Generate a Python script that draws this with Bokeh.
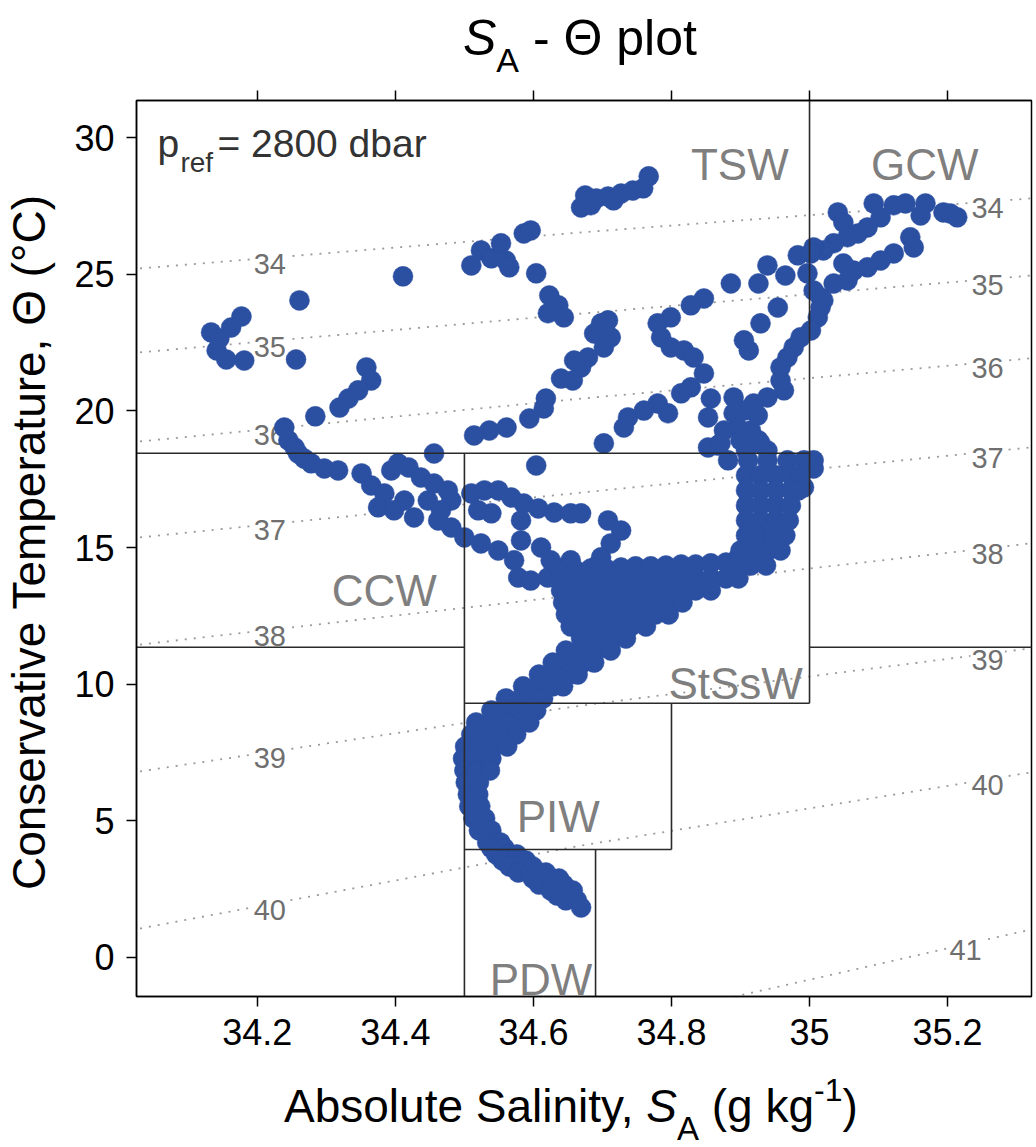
import numpy as np
from bokeh.plotting import figure
from bokeh.models import Range1d, FixedTicker, LinearAxis, Label, Div
from bokeh.layouts import column
from bokeh.embed import file_html
from bokeh.resources import INLINE
from bokeh.core.properties import value

# ------------------------------------------------------------------ data
sa_ticks = [34.2, 34.4, 34.6, 34.8, 35.0, 35.2]
sa_tick_labels = ["34.2", "34.4", "34.6", "34.8", "35", "35.2"]
ct_ticks = [0, 5, 10, 15, 20, 25, 30]

# sigma isopycnals (p_ref = 2800 dbar): Conservative Temperature at three SA values
iso_sa = [34.03, 34.67, 35.32]
iso_sigma = ["34", "35", "36", "37", "38", "39", "40", "41"]
iso_ct = [
    [25.21, 26.53, 27.77],
    [22.14, 23.56, 24.95],
    [18.88, 20.45, 21.92],
    [15.37, 17.01, 18.66],
    [11.45, 13.28, 15.15],
    [6.81, 9.22, 11.31],
    [1.06, 4.10, 6.77],
    [-6.90, -2.70, 1.02],
]

# water-mass boundaries
wm_ct_tsw_low = 18.45
wm_ct_ccw_low = 11.35
wm_ct_stssw_low = 9.30
wm_ct_piw_low = 3.95
wm_sa_west = 34.50
wm_sa_east = 35.00
wm_sa_piw_east = 34.80
wm_sa_pdw_east = 34.69
wm_names = ["TSW", "GCW", "CCW", "StSsW", "PIW", "PDW"]

# scattered samples (SA g/kg, CT degC)
tsw_surface = [(34.669, 27.44), (34.675, 27.88), (34.683, 27.52), (34.691, 27.77), (34.708, 27.84),
               (34.716, 27.70), (34.727, 27.95), (34.744, 28.06), (34.759, 28.14), (34.767, 28.58)]
gcw_points = [(35.041, 27.26), (35.049, 26.89), (35.093, 27.59), (35.122, 27.52), (35.139, 27.59),
              (35.168, 27.59), (35.161, 27.15), (35.103, 27.08), (35.084, 26.71), (35.070, 26.49),
              (35.055, 26.35), (35.035, 26.13), (35.020, 25.87), (35.194, 27.26), (35.204, 27.22),
              (35.214, 27.08), (35.146, 26.35), (35.151, 25.98), (35.122, 25.76), (35.103, 25.50),
              (35.084, 25.25), (35.064, 25.13), (35.049, 25.39), (35.055, 24.77), (35.035, 24.66),
              (35.016, 24.15), (35.016, 23.78), (35.012, 23.42), (35.006, 25.98), (34.983, 25.69),
              (35.002, 25.76), (34.997, 25.03), (35.006, 24.40), (35.020, 24.04)]
tsw_east = [(35.002, 22.94), (34.987, 22.69), (34.977, 22.32), (34.968, 21.95), (34.958, 21.59),
            (34.958, 21.11), (34.963, 20.75), (34.939, 20.49), (34.919, 20.27), (34.905, 20.01),
            (34.890, 20.49), (34.890, 19.91), (34.896, 19.39), (34.900, 18.92), (34.867, 18.73),
            (34.929, 18.81), (34.915, 19.28), (34.925, 19.83), (34.908, 18.55), (34.939, 18.55),
            (34.939, 25.32), (34.965, 24.95), (34.886, 24.66), (34.926, 24.66), (34.954, 23.78),
            (34.929, 23.20), (34.905, 22.58), (34.912, 22.21), (34.847, 24.11), (34.828, 23.86),
            (34.799, 23.42), (34.780, 23.20), (34.785, 22.69), (34.799, 22.32), (34.818, 22.21),
            (34.832, 21.95), (34.698, 23.20), (34.708, 23.31), (34.688, 22.83), (34.712, 22.69),
            (34.702, 22.32), (34.679, 21.95), (34.669, 21.59), (34.657, 21.11), (34.640, 21.18),
            (34.659, 21.84), (34.618, 20.45), (34.615, 20.09), (34.594, 19.72), (34.561, 19.39),
            (34.536, 19.28), (34.514, 19.10), (34.847, 21.37), (34.828, 20.86), (34.814, 20.64),
            (34.857, 20.45), (34.853, 19.76), (34.780, 20.27), (34.760, 20.01), (34.737, 19.76),
            (34.731, 19.39), (34.702, 18.81), (34.795, 19.91), (34.876, 19.28)]
tsw_west = [(34.510, 25.32), (34.524, 25.87), (34.539, 25.58), (34.553, 26.13), (34.560, 25.50),
            (34.565, 25.25), (34.586, 26.49), (34.596, 26.60), (34.604, 25.03), (34.623, 24.22),
            (34.636, 23.86), (34.621, 23.57), (34.644, 23.42), (34.411, 24.92), (34.261, 24.04),
            (34.256, 21.88), (34.133, 22.87), (34.145, 22.65), (34.162, 23.05), (34.177, 23.45),
            (34.141, 22.21), (34.155, 21.88), (34.181, 21.84), (34.358, 21.59), (34.365, 21.11),
            (34.346, 20.75), (34.332, 20.45), (34.319, 20.12), (34.284, 19.80), (34.239, 19.39),
            (34.245, 18.92), (34.254, 18.66), (34.259, 18.44), (34.268, 18.25), (34.278, 18.08),
            (34.297, 17.89), (34.317, 17.82), (34.456, 18.44), (34.604, 18.00)]
ccw_points = [(34.351, 17.71), (34.365, 17.27), (34.384, 16.98), (34.375, 16.47), (34.398, 16.36),
              (34.427, 16.10), (34.404, 18.08), (34.419, 17.93), (34.437, 17.56), (34.456, 17.34),
              (34.476, 17.09), (34.481, 16.72), (34.462, 15.99), (34.481, 15.73), (34.500, 15.37),
              (34.524, 15.15), (34.549, 14.89), (34.572, 14.53), (34.578, 13.90), (34.596, 13.79),
              (34.621, 13.90), (34.644, 14.27), (34.510, 16.98), (34.529, 17.09), (34.549, 17.09),
              (34.568, 16.83), (34.586, 16.61), (34.607, 16.43), (34.630, 16.28), (34.654, 16.25),
              (34.520, 16.36), (34.539, 16.25), (34.582, 15.99), (34.582, 15.26), (34.611, 15.00),
              (34.625, 14.53), (34.654, 14.53), (34.447, 16.72), (34.466, 16.36), (34.413, 16.72),
              (34.394, 17.82)]
stssw_points = [(34.853, 18.66), (34.871, 18.81), (34.926, 18.92), (35.006, 17.89), (34.992, 17.20),
                (34.669, 16.25), (34.708, 15.99), (34.727, 15.62), (34.712, 15.15), (34.698, 14.64),
                (34.688, 14.27), (34.640, 14.09), (34.662, 14.16), (34.683, 14.23), (34.705, 14.23),
                (34.727, 14.27), (34.748, 14.31), (34.770, 14.31), (34.792, 14.34), (34.814, 14.38),
                (34.835, 14.38), (34.857, 14.42), (34.879, 14.45), (34.896, 14.60)]

# dense core of the profiles: CT levels and the salinities sampled at each level
core_ct = [18.19, 17.64, 17.09, 16.54, 15.99, 15.44, 14.89, 14.34, 13.87, 13.43, 12.99, 12.55,
           12.11, 11.67, 11.23, 10.79, 10.35, 9.92, 9.48, 9.04, 8.60, 8.16, 7.72, 7.28, 6.84,
           6.40, 5.96, 5.53, 5.09, 4.65, 4.21, 4.00, 3.77, 3.55, 3.33, 3.11, 2.89, 2.67, 2.45,
           2.27, 2.09, 1.83]
core_sa = [
    [34.882, 34.911, 34.939, 34.968, 34.992, 35.006],
    [34.908, 34.929, 34.951, 34.973, 34.987],
    [34.908, 34.929, 34.951, 34.973, 34.984],
    [34.908, 34.929, 34.951, 34.973],
    [34.908, 34.929, 34.951, 34.970],
    [34.908, 34.926, 34.947, 34.965],
    [34.900, 34.922, 34.940, 34.958],
    [34.893, 34.915, 34.937],
    [34.640, 34.662, 34.683, 34.705, 34.727, 34.748, 34.770, 34.792, 34.814, 34.835, 34.857, 34.879, 34.897],
    [34.640, 34.662, 34.683, 34.705, 34.727, 34.748, 34.770, 34.792, 34.814, 34.835, 34.857],
    [34.643, 34.664, 34.686, 34.708, 34.730, 34.751, 34.773, 34.795, 34.816],
    [34.647, 34.669, 34.691, 34.712, 34.734, 34.756, 34.777, 34.796],
    [34.654, 34.676, 34.698, 34.719, 34.741, 34.763],
    [34.669, 34.691, 34.712, 34.734],
    [34.647, 34.669, 34.691, 34.712],
    [34.628, 34.650, 34.672, 34.688],
    [34.608, 34.630, 34.651, 34.664],
    [34.585, 34.607, 34.628, 34.643],
    [34.560, 34.582, 34.604, 34.614],
    [34.539, 34.560, 34.582, 34.604],
    [34.517, 34.539, 34.560, 34.582, 34.594],
    [34.510, 34.530, 34.550, 34.575],
    [34.501, 34.521, 34.541, 34.562],
    [34.498, 34.519, 34.539],
    [34.500, 34.519, 34.537],
    [34.502, 34.521],
    [34.505, 34.520],
    [34.507, 34.523],
    [34.513, 34.530],
    [34.521, 34.539],
    [34.533, 34.552],
    [34.539, 34.558],
    [34.546, 34.565, 34.576],
    [34.555, 34.573, 34.589],
    [34.565, 34.583, 34.599],
    [34.578, 34.596, 34.618],
    [34.599, 34.620, 34.637],
    [34.608, 34.627, 34.644],
    [34.625, 34.644, 34.657],
    [34.634, 34.651],
    [34.647, 34.663],
    [34.669],
]

# ------------------------------------------------------------------ figure
FONT = "Liberation Sans"
X0, X1 = 34.0249, 35.3216
Y0, Y1 = -1.427, 31.354

p = figure(width=1034, height=986, output_backend="svg", toolbar_location=None,
           x_range=Range1d(X0, X1), y_range=Range1d(Y0, Y1),
           min_border_left=135, min_border_right=3, min_border_top=20, min_border_bottom=70)
p.title.visible = False
p.xgrid.visible = False
p.ygrid.visible = False
p.outline_line_color = "black"
p.outline_line_width = 1.5
p.background_fill_color = "white"
p.border_fill_color = "white"

xax = p.xaxis[0]
yax = p.yaxis[0]
xax.ticker = FixedTicker(ticks=sa_ticks)
xax.major_label_overrides = {t: l for t, l in zip(sa_ticks, sa_tick_labels)}
yax.ticker = FixedTicker(ticks=ct_ticks)
for ax in (xax, yax):
    ax.major_tick_out = 10
    ax.major_tick_in = 0
    ax.minor_tick_out = 0
    ax.minor_tick_in = 0
    ax.major_tick_line_width = 1.5
    ax.major_tick_line_color = "black"
    ax.axis_line_width = 1.5
    ax.axis_line_color = "black"
    ax.major_label_text_font = FONT
    ax.major_label_text_font_size = "36px"
    ax.major_label_text_color = "black"
    ax.major_label_standoff = 12

yax.axis_label = "\u00a0\u00a0Conservative Temperature,  \u0398 (\u00b0C)"
yax.axis_label_text_font = FONT
yax.axis_label_text_font_size = "46px"
yax.axis_label_text_font_style = "normal"
yax.axis_label_text_color = "black"
yax.axis_label_standoff = 16

top = LinearAxis(ticker=FixedTicker(ticks=sa_ticks), major_tick_out=10, major_tick_in=0,
                 minor_tick_out=0, minor_tick_in=0, major_tick_line_width=1.5,
                 axis_line_width=1.5, major_label_text_font_size="1px",
                 major_label_text_color=None, major_label_standoff=0)
p.add_layout(top, "above")

# isopycnals
for lab, cts in zip(iso_sigma, iso_ct):
    p.line(iso_sa, cts, line_color="#9a9a9a", line_width=1.8, line_dash="2 7")

lab_left_sa = 34.218
lab_right_sa = 35.258
lx, ly, lt = [], [], []
for lab, cts in zip(iso_sigma, iso_ct):
    if lab != "41":
        lx.append(lab_left_sa); ly.append(float(np.interp(lab_left_sa, iso_sa, cts))); lt.append(lab)
        lx.append(lab_right_sa); ly.append(float(np.interp(lab_right_sa, iso_sa, cts))); lt.append(lab)
    else:
        lx.append(35.226); ly.append(float(np.interp(35.226, iso_sa, cts))); lt.append(lab)
p.text(x=lx, y=ly, text=lt, text_font=value(FONT), text_font_size="29px", text_color="#6f6f6f",
       text_align="center", text_baseline="middle", y_offset=6,
       background_fill_color="white", padding=1)

# samples
pts = tsw_surface + gcw_points + tsw_east + tsw_west + ccw_points + stssw_points
sa_all = [s for s, c in pts]
ct_all = [c for s, c in pts]
for c, row in zip(core_ct, core_sa):
    for s in row:
        sa_all.append(s)
        ct_all.append(c)
p.scatter(sa_all, ct_all, marker="circle", size=20, fill_color="#2b4fa1", line_color="#2b4fa1",
          line_width=0.5)

# water-mass boxes
LOW, HIGH, LEFT, RIGHT = Y0 - 5, Y1 + 5, X0 - 1, X1 + 1
seg_x0 = [LEFT, wm_sa_east, LEFT, wm_sa_east, wm_sa_west, wm_sa_west, wm_sa_piw_east, wm_sa_west, wm_sa_pdw_east]
seg_y0 = [wm_ct_tsw_low, wm_ct_stssw_low, wm_ct_ccw_low, wm_ct_ccw_low, LOW, wm_ct_stssw_low, wm_ct_piw_low, wm_ct_piw_low, LOW]
seg_x1 = [wm_sa_east, wm_sa_east, wm_sa_west, RIGHT, wm_sa_west, wm_sa_east, wm_sa_piw_east, wm_sa_piw_east, wm_sa_pdw_east]
seg_y1 = [wm_ct_tsw_low, HIGH, wm_ct_ccw_low, wm_ct_ccw_low, wm_ct_tsw_low, wm_ct_stssw_low, wm_ct_stssw_low, wm_ct_piw_low, wm_ct_piw_low]
p.segment(seg_x0, seg_y0, seg_x1, seg_y1, line_color="#2a2a2a", line_width=1.6)

# water-mass names
wm_x = [34.899, 35.167, 34.384, 34.893, 34.636, 34.611]
wm_y = [29.01, 29.01, 13.43, 10.02, 5.16, -0.82]
p.text(x=wm_x, y=wm_y, text=wm_names, text_font=value(FONT), text_font_size="44px",
       text_color="#7f7f7f", text_align="center", text_baseline="alphabetic")


def add_label(text, x, y, size, style="normal", color="black"):
    p.add_layout(Label(x=x, y=y, text=text, text_font=FONT, text_font_size=f"{size}px",
                       text_font_style=style, text_color=color, text_align="left",
                       text_baseline="alphabetic"))


# p_ref note (inside the frame)
add_label("p", 34.0553, 29.78, 39, color="#333333")
add_label("ref", 34.0886, 29.085, 28, color="#333333")
add_label("= 2800 dbar", 34.1421, 29.78, 39, color="#333333")

# ------------------------------------------------------------------ title and x label (HTML)
FF = "font-family:'Liberation Sans',Arial,sans-serif;color:#000;"
title_html = (
    f'<div style="position:relative;width:1034px;height:80px;{FF}">'
    '<div style="position:absolute;left:463px;top:13px;font-size:50px;line-height:50px;white-space:nowrap;">'
    '<i>S</i><span style="position:relative;top:17px;font-size:34px;">A</span> - \u0398 plot'
    '</div></div>'
)
xlabel_html = (
    f'<div style="position:relative;width:1034px;height:80px;{FF}">'
    '<div style="position:absolute;left:284px;top:17px;font-size:46px;line-height:46px;white-space:nowrap;">'
    'Absolute Salinity, <i>S</i><span style="position:relative;top:18px;font-size:33px;">A</span>'
    ' (g kg<span style="position:relative;top:-21px;font-size:32px;">-1</span>)'
    '</div></div>'
)
title_div = Div(text=title_html, width=1034, height=80, margin=0)
xlabel_div = Div(text=xlabel_html, width=1034, height=80, margin=0)

layout = column(title_div, p, xlabel_div, spacing=0)

open("out.html", "w").write(file_html(layout, INLINE))
